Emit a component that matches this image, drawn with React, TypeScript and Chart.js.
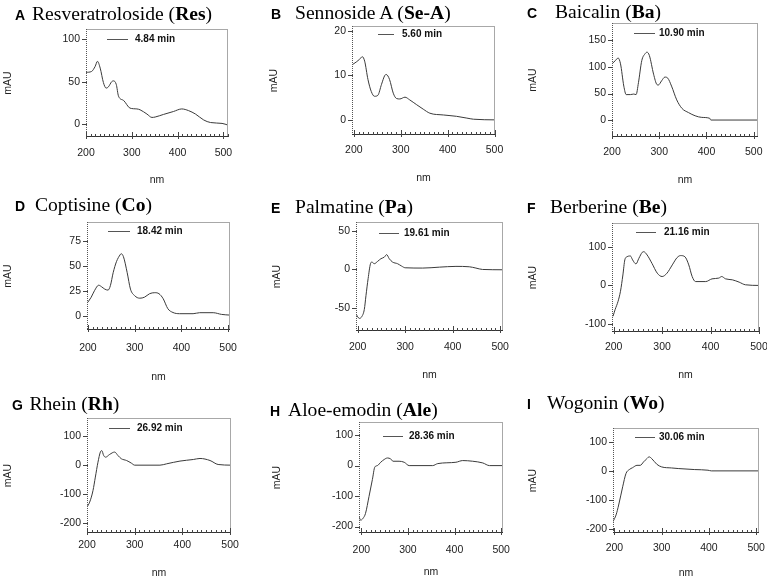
import React, { useEffect, useRef } from "react";
import { Chart, registerables } from "chart.js";

Chart.register(...registerables);

// ---------------- data ----------------
const panelLetters = ["A", "B", "C", "D", "E", "F", "G", "H", "I"];
const compoundNames = ["Resveratroloside", "Sennoside A", "Baicalin", "Coptisine", "Palmatine", "Berberine", "Rhein", "Aloe-emodin", "Wogonin"];
const abbreviations = ["Res", "Se-A", "Ba", "Co", "Pa", "Be", "Rh", "Ale", "Wo"];
const retentionTimes = ["4.84 min", "5.60 min", "10.90 min", "18.42 min", "19.61 min", "21.16 min", "26.92 min", "28.36 min", "30.06 min"];

const resNm = [200, 212, 220, 225, 231, 238, 244, 249, 256, 260, 266, 271, 282, 296, 311, 318, 333, 344, 351, 369, 391, 409, 424, 439, 457, 472, 497, 510];
const resMau = [61, 62, 68, 74, 66, 49, 42.5, 44, 50, 51, 47, 33, 28, 19, 18, 17, 12, 8, 8.5, 11.5, 15, 18, 16, 12, 5, 2, 1, -1];

const seNm = [198, 205, 212, 218, 223, 230, 237, 244, 251, 259, 266, 269, 276, 284, 291, 298, 309, 319, 334, 348, 362, 391, 419, 441, 455, 501];
const seMau = [12.5, 13, 13.6, 14.2, 13.2, 9.1, 6.4, 5.3, 5.5, 8, 10, 10.2, 9.1, 6, 4.8, 4.7, 5.1, 4.5, 3.4, 2.4, 1.5, 1.1, 0.8, 0.4, 0.15, 0];

const baNm = [200, 207, 213, 218, 225, 230, 239, 246, 251, 256, 263, 270, 274, 279, 288, 295, 298, 305, 312, 318, 326, 337, 348, 362, 376, 390, 407, 409, 509];
const baMau = [106, 112, 117, 106, 64, 48, 48, 49, 48, 70.5, 112, 125, 128, 122, 86.5, 67, 66, 74, 81, 79, 64, 38, 22, 14, 8, 5, 3.2, 0, 0];

const coNm = [199, 207, 214, 223, 229, 236, 243, 248, 254, 261, 269, 271, 276, 284, 291, 300, 311, 321, 332, 343, 352, 361, 371, 382, 396, 425, 439, 468, 486, 504];
const coMau = [13, 18.5, 25, 30.5, 29, 26.6, 25.6, 30, 43, 54, 61, 62, 59, 43, 26.6, 20, 17.5, 18.5, 22, 23, 22, 17, 7, 3.2, 2, 2, 3, 3, 1.3, 0.6];

const paNm = [196.5, 203.5, 209, 214, 217.5, 222, 227, 230, 235, 242, 249, 256, 261, 266.5, 273.5, 284, 292.5, 300, 337, 372, 407, 435, 449, 463, 506];
const paMau = [-58, -63.6, -61, -52, -34, -12, 7.5, 9.6, 7.5, 10.5, 14, 16, 19.3, 14, 9.6, 7.5, 4.4, 2.2, 1.8, 3, 4, 3.5, 1.8, 0, -0.4];

const beNm = [198.6, 203, 209, 214, 219, 223, 227.5, 234.5, 239, 246, 252, 259, 262, 269, 279, 290, 300, 310, 321, 331, 338, 347, 355, 362, 369, 390, 403, 417, 423, 431, 445, 459, 472, 500];
const beMau = [-79.5, -62, -41, -15, 27, 66, 74, 76, 66, 55.5, 70, 85.5, 87, 78.6, 57, 31.6, 23, 31.6, 53, 72, 77, 74, 53, 23, 10, 10, 17, 19, 23, 17, 14.5, 8.5, 1.7, 0];

const rhNm = [200, 205.6, 212.6, 217.5, 223, 228, 231, 235, 239, 247.6, 258, 265, 272, 283, 293, 300, 353, 367, 395, 423, 437, 458, 475, 502];
const rhMau = [-144, -127, -87, -41, 10, 45, 50, 33, 27.5, 37, 45, 33, 22, 16, 7, 0, 0, 4.6, 14, 19.5, 23, 16, 2.3, 0];

const aleNm = [195, 198.6, 203.6, 209, 216.5, 223.7, 229, 234.5, 241.6, 249, 256, 263, 268, 281, 292, 302.6, 353, 364, 403, 417.5, 439, 460.6, 475, 504];
const aleMau = [-167, -179, -173, -156.6, -101, -46, -4.4, 0, 11, 20, 25, 22, 14.3, 14.3, 11, 0, 0, 6.6, 11, 16.5, 14.3, 8.8, 0, 0];

const woNm = [197, 203.5, 209, 217.5, 224.5, 231.5, 238.5, 247.7, 254.7, 261.7, 268.7, 273.6, 279, 289.7, 300, 321, 335, 370, 398, 405, 506];
const woMau = [-174, -151, -117, -54.5, -9, 4.5, 11, 19, 19, 30.7, 42, 48, 42, 22.7, 13.6, 10, 8, 4.5, 2.3, 0, 0];

const nmSeries = [resNm, seNm, baNm, coNm, paNm, beNm, rhNm, aleNm, woNm];
const mauSeries = [resMau, seMau, baMau, coMau, paMau, beMau, rhMau, aleMau, woMau];

// axis ranges
const nmMin = [200, 196, 200, 198, 196.5, 196.5, 200, 195, 197];
const nmMax = [510, 501, 509, 504, 506, 500, 502, 504, 506];
const nmStep = 100;
const mauMin = [-15, -3.4, -32, -14.3, -80, -120, -233, -221, -213];
const mauMax = [112, 21.1, 183, 93.7, 61.7, 161, 162, 143, 147];
const mauStep = [50, 10, 50, 25, 50, 100, 100, 100, 100];

// ---------------- layout (page pixels) ----------------
const colOrigins = [0, 256, 512, 0, 256, 512, 0, 256, 512];
const plotBoxes = [
  [86, 29, 228, 137],
  [352, 26, 495, 135],
  [612, 23, 758, 137],
  [87, 222, 230, 330],
  [356, 222, 503, 331],
  [612, 223, 759, 332],
  [87, 418, 231, 533],
  [359, 422, 503, 533],
  [613, 428, 759, 533],
];
// [lineStartX, lineEndX, lineY, textX]
const legendSpots = [
  [107, 128, 39, 135],
  [378, 394, 34, 402],
  [634, 655, 33, 659],
  [108, 130, 231, 137],
  [379, 399, 233, 404],
  [636, 656, 232, 664],
  [109, 130, 428, 137],
  [383, 403, 436, 409],
  [635, 655, 437, 659],
];
// [letterX, nameX, baselineY]
const titleSpots = [
  [15, 32, 20],
  [271, 295, 19.5],
  [527, 555, 18.5],
  [15, 35, 211],
  [271, 295, 213.5],
  [527, 550, 213],
  [12, 29.5, 410.5],
  [270, 288, 416],
  [527, 547, 409],
];
const mauTitleX = [8.5, 18.5, 21.5, 8.5, 21.5, 21.5, 8.5, 21.5, 21.5];
const nmTitleOffset = [43, 43, 43, 46.7, 44, 43, 40.6, 38.7, 40];
const xLabelOffset = [16, 15, 14.7, 18.3, 15.7, 15.3, 12.3, 17, 15.3];

const SANS = "'Liberation Sans', Arial, Helvetica, sans-serif";
const SERIF = "'Liberation Serif', 'Times New Roman', Times, serif";
const TICK_SIZE = 10.5;
const LH = TICK_SIZE * 1.2;
const TITLE_SIZE = 19.6;

function stepValues(min: number, max: number, step: number) {
  const out: { value: number }[] = [];
  const start = Math.ceil(min / step - 1e-9) * step;
  for (let v = start; v <= max + 1e-9; v += step) out.push({ value: Math.round(v * 1000) / 1000 });
  return out;
}

function Panel({ index }: { index: number }) {
  const ref = useRef<HTMLCanvasElement | null>(null);
  const [L, T, R, B] = plotBoxes[index];
  const cLeft = colOrigins[index];
  const cTop = T - 12;
  const cRight = Math.min(R + 14, 767);
  const cBottom = Math.min(B + 56, 583);
  const w = cRight - cLeft;
  const h = cBottom - cTop;
  const yWidth = L - cLeft;
  const xHeight = cBottom - B;

  useEffect(() => {
    const canvas = ref.current;
    if (!canvas) return;
    const nm = nmSeries[index];
    const mau = mauSeries[index];
    const points = nm.map((x, k) => ({ x, y: mau[k] }));
    const [lx1, lx2, ly, tx] = legendSpots[index];

    const framePlugin = {
      id: "frame" + index,
      afterDraw(chart: any) {
        const { ctx, chartArea: a, scales } = chart;
        const xs = scales.x;
        const ys = scales.y;
        ctx.save();
        ctx.lineWidth = 1;
        ctx.setLineDash([]);
        // top and right borders
        ctx.strokeStyle = "#a8a8a8";
        ctx.beginPath();
        ctx.moveTo(a.left, a.top + 0.5);
        ctx.lineTo(a.right, a.top + 0.5);
        ctx.moveTo(a.right - 0.5, a.top);
        ctx.lineTo(a.right - 0.5, a.bottom);
        ctx.stroke();
        // left dotted axis
        ctx.strokeStyle = "#555";
        ctx.setLineDash([1, 1]);
        ctx.beginPath();
        ctx.moveTo(a.left + 0.5, a.top);
        ctx.lineTo(a.left + 0.5, a.bottom);
        ctx.stroke();
        ctx.setLineDash([]);
        // bottom axis
        ctx.strokeStyle = "#333";
        ctx.beginPath();
        ctx.moveTo(a.left, a.bottom - 0.5);
        ctx.lineTo(a.right, a.bottom - 0.5);
        ctx.stroke();
        // x ticks (major + minor)
        ctx.strokeStyle = "#444";
        ctx.beginPath();
        for (let v = Math.ceil(xs.min / 10) * 10; v <= xs.max; v += 10) {
          const px = Math.round(xs.getPixelForValue(v)) + 0.5;
          const major = v % 100 === 0;
          ctx.moveTo(px, a.bottom + (major ? 2 : 0));
          ctx.lineTo(px, a.bottom - (major ? 5 : 3));
        }
        // y major ticks
        for (const t of ys.ticks) {
          const py = Math.round(ys.getPixelForValue(t.value)) + 0.5;
          ctx.moveTo(a.left - 4, py);
          ctx.lineTo(a.left + 1, py);
        }
        ctx.stroke();
        // legend
        ctx.strokeStyle = "#555";
        ctx.beginPath();
        ctx.moveTo(lx1 - cLeft, Math.round(ly - cTop) + 0.5);
        ctx.lineTo(lx2 - cLeft, Math.round(ly - cTop) + 0.5);
        ctx.stroke();
        ctx.fillStyle = "#111";
        ctx.font = `bold 10px ${SANS}`;
        ctx.textBaseline = "middle";
        ctx.textAlign = "left";
        ctx.fillText(chart.data.datasets[0].label, tx - cLeft, ly - cTop + 0.5);
        ctx.restore();
      },
    };

    const tickFont = { family: SANS, size: TICK_SIZE };
    const chart = new Chart(canvas, {
      type: "line",
      data: {
        datasets: [
          {
            label: retentionTimes[index],
            data: points,
            borderColor: "#3a3a3a",
            borderWidth: 1,
            pointRadius: 0,
            cubicInterpolationMode: "monotone",
            fill: false,
          },
        ],
      },
      options: {
        animation: false,
        responsive: false,
        maintainAspectRatio: false,
        devicePixelRatio: 1,
        layout: { padding: { left: 0, top: T - cTop, right: cRight - R, bottom: 0 } },
        plugins: {
          legend: { display: false },
          tooltip: { enabled: false },
          title: { display: false },
        },
        scales: {
          x: {
            type: "linear",
            min: nmMin[index],
            max: nmMax[index],
            grid: { display: false, drawTicks: false },
            border: { display: false },
            afterBuildTicks: (s: any) => {
              s.ticks = stepValues(nmMin[index], nmMax[index], nmStep);
            },
            ticks: {
              autoSkip: false,
              maxRotation: 0,
              minRotation: 0,
              padding: xLabelOffset[index] - LH / 2,
              color: "#222",
              font: tickFont,
              callback: (v: any) => String(v),
            },
            title: {
              display: true,
              text: "nm",
              color: "#222",
              font: tickFont,
              padding: { top: 0, bottom: xHeight - nmTitleOffset[index] - LH / 2 },
            },
            afterFit: (s: any) => {
              s.height = xHeight;
              s.paddingLeft = 0;
              s.paddingRight = 0;
            },
          },
          y: {
            type: "linear",
            min: mauMin[index],
            max: mauMax[index],
            grid: { display: false, drawTicks: false },
            border: { display: false },
            afterBuildTicks: (s: any) => {
              s.ticks = stepValues(mauMin[index], mauMax[index], mauStep[index]);
            },
            ticks: {
              autoSkip: false,
              padding: 6,
              color: "#222",
              font: tickFont,
              callback: (v: any) => String(v),
            },
            title: {
              display: true,
              text: "mAU",
              color: "#222",
              font: tickFont,
              padding: { top: mauTitleX[index] - LH / 2, bottom: 0 },
            },
            afterFit: (s: any) => {
              s.width = yWidth;
              s.paddingTop = 0;
              s.paddingBottom = 0;
            },
          },
        },
      } as any,
      plugins: [framePlugin],
    });
    return () => chart.destroy();
  }, [index]);

  const [letterX, nameX, baseY] = titleSpots[index];
  return (
    <>
      <canvas
        ref={ref}
        width={w}
        height={h}
        style={{ position: "absolute", left: cLeft, top: cTop, width: w, height: h, display: "block" }}
      />
      <div
        style={{
          position: "absolute",
          left: letterX,
          top: baseY - TITLE_SIZE * 0.837,
          fontFamily: SERIF,
          fontSize: TITLE_SIZE,
          lineHeight: `${TITLE_SIZE}px`,
          whiteSpace: "nowrap",
          color: "#000",
        }}
      >
        <span
          style={{
            display: "inline-block",
            width: nameX - letterX,
            fontFamily: SANS,
            fontWeight: "bold",
            fontSize: 14,
          }}
        >
          {panelLetters[index]}
        </span>
        <span>{compoundNames[index]} (</span>
        <span style={{ fontWeight: "bold" }}>{abbreviations[index]}</span>
        <span>)</span>
      </div>
    </>
  );
}

export default function App() {
  return (
    <div
      style={{
        position: "fixed",
        left: 0,
        top: 0,
        width: 767,
        height: 583,
        background: "#fff",
        overflow: "hidden",
      }}
    >
      {panelLetters.map((_, i) => (
        <Panel key={i} index={i} />
      ))}
    </div>
  );
}
